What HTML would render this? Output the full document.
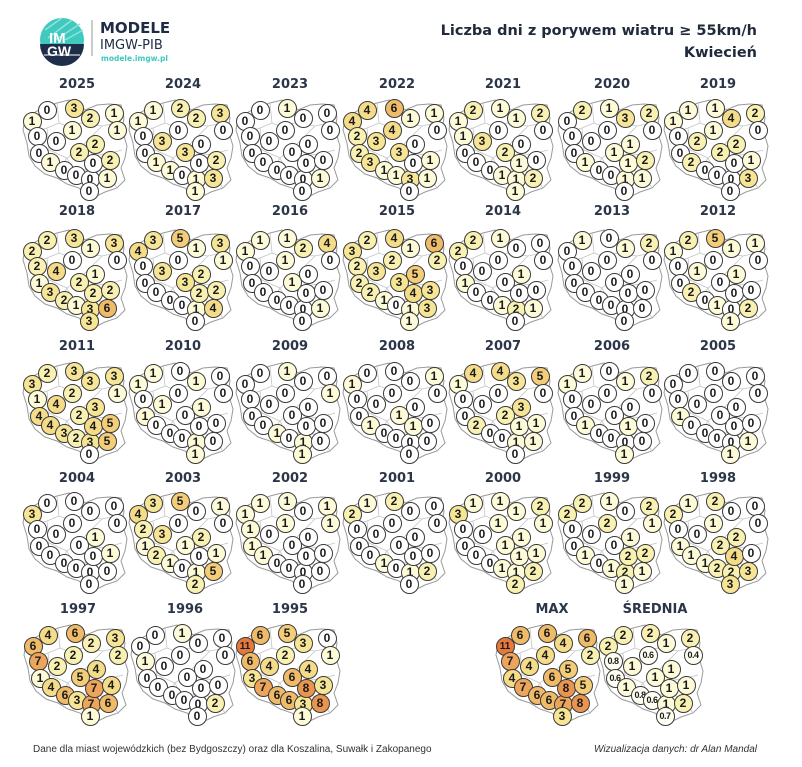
<!DOCTYPE html>
<html><head><meta charset="utf-8">
<style>
body{margin:0;background:#fff;}
#w{position:relative;width:802px;height:767px;overflow:hidden;background:#fff;font-family:"Liberation Sans",sans-serif;}
svg.bg{position:absolute;left:0;top:0}
.m{position:absolute;width:0;height:0}
.m b{position:absolute;width:17px;height:17px;margin:-9.5px 0 0 -9.5px;border:1px solid #3a3a3a;border-radius:50%;background:#fff;font:bold 12px/17px "Liberation Sans",sans-serif;text-align:center;color:#1a1a1a}
.m b:nth-child(1){left:-45px;top:33px}
.m b:nth-child(2){left:-30px;top:22px}
.m b:nth-child(3){left:-3px;top:20px}
.m b:nth-child(4){left:13px;top:30px}
.m b:nth-child(5){left:37px;top:25px}
.m b:nth-child(6){left:40px;top:42px}
.m b:nth-child(7){left:-40px;top:48px}
.m b:nth-child(8){left:-21px;top:53px}
.m b:nth-child(9){left:-5px;top:42px}
.m b:nth-child(10){left:18px;top:56px}
.m b:nth-child(11){left:2px;top:64px}
.m b:nth-child(12){left:-38px;top:65px}
.m b:nth-child(13){left:-27px;top:74px}
.m b:nth-child(14){left:-13px;top:82px}
.m b:nth-child(15){left:-1px;top:87px}
.m b:nth-child(16){left:13px;top:91px}
.m b:nth-child(17){left:16px;top:75px}
.m b:nth-child(18){left:33px;top:72px}
.m b:nth-child(19){left:30px;top:90px}
.m b:nth-child(20){left:12px;top:103px}
.m b.a{background:#fdfbd8}
.m b.b{background:#f9f1b1}
.m b.c{background:#f6e595}
.m b.d{background:#f5dc88}
.m b.e{background:#f3cd78}
.m b.f{background:#f0bb68}
.m b.g{background:#eca55a}
.m b.h{background:#e9954f}
.m b.k{background:#e5793b;font-size:10px}
.m b.s{font-size:9px;letter-spacing:-0.5px;background:#fffef2}
.t{position:absolute;width:100px;margin-left:-50px;text-align:center;font:bold 13px "DejaVu Sans",sans-serif;color:#2b3648}
</style></head><body><div id="w">
<svg class="bg" width="802" height="767">
<defs>
<g id="pl">
<path d="M-52,30 L-38,22 L-20,15 L-8,12 L2,16 L8,22 L20,17 L32,16 L44,17 L47,30 L45,42 L50,58 L48,70 L44,80 L48,92 L40,100 L28,104 L20,108 L8,106 L2,100 L-10,96 L-20,90 L-32,86 L-42,78 L-48,68 L-50,55 L-54,42 Z" fill="#fff" stroke="#9a9a9a" stroke-width="1"/>
<path d="M-20,15 L-18,35 L-30,40 L-45,45 M8,22 L5,35 L-10,38 L-18,35 M5,35 L25,38 L44,34 M-30,40 L-28,62 L-48,62 M-28,62 L-10,70 L5,58 L25,38 M5,58 L12,68 L30,66 L45,62 M-10,70 L-20,85 M-10,70 L-4,82 L8,82 L20,82 L30,85 M12,68 L8,82 M30,66 L30,85 L40,100" fill="none" stroke="#c4c4c4" stroke-width="0.8"/>
</g>
</defs>
<use href="#pl" x="77" y="88"/><use href="#pl" x="183" y="88"/><use href="#pl" x="290" y="88"/><use href="#pl" x="397" y="88"/><use href="#pl" x="503" y="88"/><use href="#pl" x="612" y="88"/><use href="#pl" x="718" y="88"/>
<use href="#pl" x="77" y="218"/><use href="#pl" x="183" y="218"/><use href="#pl" x="290" y="218"/><use href="#pl" x="397" y="218"/><use href="#pl" x="503" y="218"/><use href="#pl" x="612" y="218"/><use href="#pl" x="718" y="218"/>
<use href="#pl" x="77" y="351"/><use href="#pl" x="183" y="351"/><use href="#pl" x="290" y="351"/><use href="#pl" x="397" y="351"/><use href="#pl" x="503" y="351"/><use href="#pl" x="612" y="351"/><use href="#pl" x="718" y="351"/>
<use href="#pl" x="77" y="481"/><use href="#pl" x="183" y="481"/><use href="#pl" x="290" y="481"/><use href="#pl" x="397" y="481"/><use href="#pl" x="503" y="481"/><use href="#pl" x="612" y="481"/><use href="#pl" x="718" y="481"/>
<use href="#pl" x="78" y="613"/><use href="#pl" x="185" y="613"/><use href="#pl" x="290" y="613"/><use href="#pl" x="550" y="613"/><use href="#pl" x="653" y="613"/>
<circle cx="62" cy="40" r="22" fill="#3fc9bf"/>
<g stroke="#8fe3dc" stroke-width="1.5"><line x1="45" y1="30" x2="62" y2="18"/><line x1="48" y1="38" x2="72" y2="20"/><line x1="55" y1="40" x2="80" y2="24"/><line x1="65" y1="40" x2="83" y2="30"/></g>
<path d="M40,44 L84,44 A22,22 0 0 1 40,44 Z" fill="#1e2d4a"/>
<line x1="44" y1="55" x2="80" y2="55" stroke="#fff" stroke-width="1"/>
<text x="49" y="43" font-family="Liberation Sans" font-weight="bold" font-size="15" fill="#fff">IM</text>
<text x="47" y="56" font-family="Liberation Sans" font-weight="bold" font-size="14" fill="#fff">GW</text>
<line x1="92" y1="20" x2="92" y2="56" stroke="#999" stroke-width="1"/>
<text x="100" y="33" font-family="DejaVu Sans" font-weight="bold" font-size="15" fill="#1f2a44">MODELE</text>
<text x="100" y="49" font-family="DejaVu Sans" font-size="13" fill="#1f2a44">IMGW-PIB</text>
<text x="101" y="61" font-family="DejaVu Sans" font-weight="bold" font-size="7.5" fill="#3fc9bf">modele.imgw.pl</text>
<text x="757" y="35" text-anchor="end" font-family="DejaVu Sans" font-weight="bold" font-size="14.5" fill="#1f2a3a">Liczba dni z porywem wiatru ≥ 55km/h</text>
<text x="757" y="57" text-anchor="end" font-family="DejaVu Sans" font-weight="bold" font-size="14.5" fill="#1f2a3a">Kwiecień</text>
<text x="33" y="752" font-family="Liberation Sans" font-size="10" fill="#333">Dane dla miast wojewódzkich (bez Bydgoszczy) oraz dla Koszalina, Suwałk i Zakopanego</text>
<text x="757" y="752" text-anchor="end" font-family="Liberation Sans" font-style="italic" font-size="10" fill="#333">Wizualizacja danych: dr Alan Mandal</text>
</svg>

<div class="t" style="left:77px;top:77px">2025</div><div class="t" style="left:183px;top:77px">2024</div><div class="t" style="left:290px;top:77px">2023</div><div class="t" style="left:397px;top:77px">2022</div><div class="t" style="left:503px;top:77px">2021</div><div class="t" style="left:612px;top:77px">2020</div><div class="t" style="left:718px;top:77px">2019</div>
<div class="t" style="left:77px;top:204px">2018</div><div class="t" style="left:183px;top:204px">2017</div><div class="t" style="left:290px;top:204px">2016</div><div class="t" style="left:397px;top:204px">2015</div><div class="t" style="left:503px;top:204px">2014</div><div class="t" style="left:612px;top:204px">2013</div><div class="t" style="left:718px;top:204px">2012</div>
<div class="t" style="left:77px;top:339px">2011</div><div class="t" style="left:183px;top:339px">2010</div><div class="t" style="left:290px;top:339px">2009</div><div class="t" style="left:397px;top:339px">2008</div><div class="t" style="left:503px;top:339px">2007</div><div class="t" style="left:612px;top:339px">2006</div><div class="t" style="left:718px;top:339px">2005</div>
<div class="t" style="left:77px;top:471px">2004</div><div class="t" style="left:183px;top:471px">2003</div><div class="t" style="left:290px;top:471px">2002</div><div class="t" style="left:397px;top:471px">2001</div><div class="t" style="left:503px;top:471px">2000</div><div class="t" style="left:612px;top:471px">1999</div><div class="t" style="left:718px;top:471px">1998</div>
<div class="t" style="left:78px;top:602px">1997</div><div class="t" style="left:185px;top:602px">1996</div><div class="t" style="left:290px;top:602px">1995</div><div class="t" style="left:552px;top:602px">MAX</div><div class="t" style="left:655px;top:602px">ŚREDNIA</div>

<div class="m" style="left:77px;top:88px"><b class="a">1</b><b>0</b><b class="c">3</b><b class="b">2</b><b class="a">1</b><b class="a">1</b><b>0</b><b>0</b><b class="a">1</b><b class="b">2</b><b class="b">2</b><b>0</b><b class="a">1</b><b>0</b><b>0</b><b>0</b><b>0</b><b class="b">2</b><b class="a">1</b><b>0</b></div>
<div class="m" style="left:183px;top:88px"><b class="a">1</b><b class="a">1</b><b class="b">2</b><b class="b">2</b><b class="c">3</b><b>0</b><b>0</b><b class="c">3</b><b>0</b><b>0</b><b class="c">3</b><b>0</b><b class="a">1</b><b class="a">1</b><b>0</b><b class="a">1</b><b>0</b><b class="b">2</b><b class="c">3</b><b class="a">1</b></div>
<div class="m" style="left:290px;top:88px"><b>0</b><b>0</b><b class="a">1</b><b>0</b><b>0</b><b>0</b><b>0</b><b>0</b><b>0</b><b>0</b><b>0</b><b>0</b><b>0</b><b>0</b><b>0</b><b>0</b><b>0</b><b>0</b><b class="a">1</b><b>0</b></div>
<div class="m" style="left:397px;top:88px"><b class="d">4</b><b class="d">4</b><b class="f">6</b><b class="a">1</b><b class="a">1</b><b>0</b><b class="b">2</b><b class="c">3</b><b class="d">4</b><b>0</b><b class="c">3</b><b class="b">2</b><b class="c">3</b><b class="a">1</b><b class="a">1</b><b class="c">3</b><b>0</b><b class="a">1</b><b class="a">1</b><b>0</b></div>
<div class="m" style="left:503px;top:88px"><b class="a">1</b><b class="b">2</b><b class="a">1</b><b class="a">1</b><b class="b">2</b><b>0</b><b class="a">1</b><b class="c">3</b><b>0</b><b>0</b><b class="b">2</b><b>0</b><b>0</b><b>0</b><b class="a">1</b><b class="a">1</b><b class="a">1</b><b>0</b><b class="b">2</b><b class="a">1</b></div>
<div class="m" style="left:612px;top:88px"><b>0</b><b class="b">2</b><b class="a">1</b><b class="c">3</b><b class="b">2</b><b>0</b><b>0</b><b>0</b><b>0</b><b class="a">1</b><b class="a">1</b><b>0</b><b class="a">1</b><b>0</b><b>0</b><b class="a">1</b><b class="a">1</b><b class="b">2</b><b class="a">1</b><b>0</b></div>
<div class="m" style="left:718px;top:88px"><b class="a">1</b><b class="a">1</b><b class="a">1</b><b class="d">4</b><b class="b">2</b><b>0</b><b>0</b><b class="b">2</b><b class="a">1</b><b class="b">2</b><b class="b">2</b><b>0</b><b class="b">2</b><b>0</b><b>0</b><b>0</b><b>0</b><b class="a">1</b><b class="c">3</b><b>0</b></div>
<div class="m" style="left:77px;top:218px"><b class="b">2</b><b class="b">2</b><b class="c">3</b><b class="a">1</b><b class="c">3</b><b>0</b><b class="b">2</b><b class="d">4</b><b>0</b><b class="a">1</b><b class="b">2</b><b class="a">1</b><b class="c">3</b><b class="b">2</b><b class="a">1</b><b class="c">3</b><b class="b">2</b><b class="b">2</b><b class="f">6</b><b class="c">3</b></div>
<div class="m" style="left:183px;top:218px"><b class="d">4</b><b class="c">3</b><b class="e">5</b><b class="a">1</b><b class="c">3</b><b class="a">1</b><b>0</b><b class="c">3</b><b>0</b><b class="b">2</b><b class="c">3</b><b>0</b><b>0</b><b>0</b><b>0</b><b class="a">1</b><b class="b">2</b><b class="b">2</b><b class="d">4</b><b>0</b></div>
<div class="m" style="left:290px;top:218px"><b class="a">1</b><b class="a">1</b><b class="a">1</b><b class="b">2</b><b class="d">4</b><b>0</b><b>0</b><b>0</b><b class="a">1</b><b>0</b><b class="a">1</b><b>0</b><b>0</b><b>0</b><b>0</b><b>0</b><b>0</b><b>0</b><b class="a">1</b><b>0</b></div>
<div class="m" style="left:397px;top:218px"><b class="c">3</b><b class="b">2</b><b class="d">4</b><b class="a">1</b><b class="f">6</b><b class="b">2</b><b class="b">2</b><b class="c">3</b><b class="b">2</b><b class="e">5</b><b class="c">3</b><b class="b">2</b><b class="b">2</b><b class="a">1</b><b>0</b><b class="a">1</b><b class="d">4</b><b class="c">3</b><b class="c">3</b><b class="a">1</b></div>
<div class="m" style="left:503px;top:218px"><b class="b">2</b><b class="b">2</b><b class="a">1</b><b>0</b><b>0</b><b>0</b><b>0</b><b>0</b><b>0</b><b class="a">1</b><b>0</b><b class="a">1</b><b>0</b><b>0</b><b class="a">1</b><b class="b">2</b><b>0</b><b>0</b><b class="a">1</b><b>0</b></div>
<div class="m" style="left:612px;top:218px"><b>0</b><b class="a">1</b><b>0</b><b class="a">1</b><b class="b">2</b><b>0</b><b>0</b><b>0</b><b>0</b><b>0</b><b>0</b><b>0</b><b>0</b><b>0</b><b>0</b><b>0</b><b>0</b><b>0</b><b>0</b><b>0</b></div>
<div class="m" style="left:718px;top:218px"><b class="a">1</b><b class="b">2</b><b class="e">5</b><b class="a">1</b><b class="a">1</b><b>0</b><b>0</b><b class="a">1</b><b>0</b><b class="a">1</b><b>0</b><b>0</b><b class="b">2</b><b>0</b><b class="a">1</b><b>0</b><b>0</b><b>0</b><b class="b">2</b><b class="a">1</b></div>
<div class="m" style="left:77px;top:351px"><b class="c">3</b><b class="b">2</b><b class="c">3</b><b class="c">3</b><b class="c">3</b><b class="a">1</b><b class="a">1</b><b class="d">4</b><b class="b">2</b><b class="c">3</b><b class="b">2</b><b class="d">4</b><b class="d">4</b><b class="c">3</b><b class="b">2</b><b class="c">3</b><b class="d">4</b><b class="e">5</b><b class="e">5</b><b>0</b></div>
<div class="m" style="left:183px;top:351px"><b class="a">1</b><b class="a">1</b><b>0</b><b class="a">1</b><b>0</b><b>0</b><b>0</b><b class="a">1</b><b>0</b><b class="a">1</b><b>0</b><b class="a">1</b><b>0</b><b>0</b><b>0</b><b class="a">1</b><b>0</b><b>0</b><b>0</b><b class="a">1</b></div>
<div class="m" style="left:290px;top:351px"><b>0</b><b>0</b><b class="a">1</b><b>0</b><b>0</b><b class="a">1</b><b>0</b><b>0</b><b>0</b><b>0</b><b>0</b><b>0</b><b>0</b><b class="a">1</b><b>0</b><b class="a">1</b><b>0</b><b>0</b><b>0</b><b class="a">1</b></div>
<div class="m" style="left:397px;top:351px"><b class="a">1</b><b>0</b><b>0</b><b>0</b><b class="a">1</b><b>0</b><b>0</b><b>0</b><b>0</b><b>0</b><b class="a">1</b><b>0</b><b class="a">1</b><b>0</b><b>0</b><b>0</b><b class="a">1</b><b>0</b><b>0</b><b>0</b></div>
<div class="m" style="left:503px;top:351px"><b class="a">1</b><b class="d">4</b><b class="d">4</b><b class="c">3</b><b class="e">5</b><b>0</b><b>0</b><b>0</b><b>0</b><b class="c">3</b><b class="b">2</b><b>0</b><b class="b">2</b><b>0</b><b>0</b><b class="a">1</b><b class="a">1</b><b class="a">1</b><b class="a">1</b><b>0</b></div>
<div class="m" style="left:612px;top:351px"><b class="a">1</b><b class="a">1</b><b>0</b><b class="a">1</b><b class="b">2</b><b>0</b><b>0</b><b>0</b><b>0</b><b>0</b><b>0</b><b>0</b><b class="a">1</b><b>0</b><b>0</b><b>0</b><b class="a">1</b><b>0</b><b>0</b><b class="a">1</b></div>
<div class="m" style="left:718px;top:351px"><b>0</b><b>0</b><b>0</b><b>0</b><b>0</b><b>0</b><b>0</b><b>0</b><b>0</b><b>0</b><b>0</b><b class="a">1</b><b>0</b><b>0</b><b>0</b><b>0</b><b>0</b><b>0</b><b class="a">1</b><b class="a">1</b></div>
<div class="m" style="left:77px;top:481px"><b class="c">3</b><b>0</b><b>0</b><b>0</b><b>0</b><b>0</b><b>0</b><b>0</b><b>0</b><b class="a">1</b><b>0</b><b>0</b><b>0</b><b>0</b><b>0</b><b>0</b><b>0</b><b class="a">1</b><b>0</b><b>0</b></div>
<div class="m" style="left:183px;top:481px"><b class="d">4</b><b class="c">3</b><b class="e">5</b><b>0</b><b class="a">1</b><b>0</b><b class="b">2</b><b class="c">3</b><b>0</b><b class="b">2</b><b class="a">1</b><b class="a">1</b><b class="b">2</b><b class="a">1</b><b>0</b><b class="a">1</b><b>0</b><b class="a">1</b><b class="e">5</b><b class="b">2</b></div>
<div class="m" style="left:290px;top:481px"><b class="a">1</b><b class="a">1</b><b class="a">1</b><b>0</b><b class="a">1</b><b class="a">1</b><b class="a">1</b><b>0</b><b class="a">1</b><b>0</b><b>0</b><b class="a">1</b><b class="a">1</b><b>0</b><b>0</b><b>0</b><b>0</b><b>0</b><b>0</b><b>0</b></div>
<div class="m" style="left:397px;top:481px"><b class="b">2</b><b class="a">1</b><b class="b">2</b><b>0</b><b>0</b><b>0</b><b>0</b><b>0</b><b>0</b><b>0</b><b>0</b><b>0</b><b>0</b><b class="a">1</b><b>0</b><b class="a">1</b><b>0</b><b>0</b><b class="b">2</b><b>0</b></div>
<div class="m" style="left:503px;top:481px"><b class="c">3</b><b class="a">1</b><b class="a">1</b><b class="a">1</b><b class="b">2</b><b class="a">1</b><b>0</b><b>0</b><b class="a">1</b><b class="a">1</b><b class="a">1</b><b>0</b><b>0</b><b>0</b><b class="a">1</b><b class="a">1</b><b class="a">1</b><b class="a">1</b><b class="b">2</b><b class="b">2</b></div>
<div class="m" style="left:612px;top:481px"><b class="b">2</b><b class="b">2</b><b class="a">1</b><b>0</b><b class="b">2</b><b class="a">1</b><b>0</b><b>0</b><b class="b">2</b><b class="a">1</b><b>0</b><b>0</b><b class="a">1</b><b>0</b><b class="a">1</b><b class="b">2</b><b class="b">2</b><b class="b">2</b><b class="a">1</b><b class="a">1</b></div>
<div class="m" style="left:718px;top:481px"><b class="b">2</b><b class="a">1</b><b class="b">2</b><b>0</b><b>0</b><b>0</b><b>0</b><b>0</b><b class="a">1</b><b class="b">2</b><b class="b">2</b><b class="a">1</b><b class="a">1</b><b class="a">1</b><b class="b">2</b><b class="b">2</b><b class="d">4</b><b>0</b><b class="c">3</b><b class="c">3</b></div>
<div class="m" style="left:78px;top:613px"><b class="f">6</b><b class="d">4</b><b class="f">6</b><b class="b">2</b><b class="c">3</b><b class="b">2</b><b class="g">7</b><b class="b">2</b><b class="b">2</b><b class="d">4</b><b class="e">5</b><b class="a">1</b><b class="d">4</b><b class="f">6</b><b class="c">3</b><b class="g">7</b><b class="g">7</b><b class="d">4</b><b class="f">6</b><b class="a">1</b></div>
<div class="m" style="left:185px;top:613px"><b>0</b><b>0</b><b class="a">1</b><b>0</b><b>0</b><b>0</b><b class="a">1</b><b>0</b><b>0</b><b>0</b><b>0</b><b>0</b><b>0</b><b>0</b><b>0</b><b>0</b><b>0</b><b>0</b><b class="b">2</b><b>0</b></div>
<div class="m" style="left:290px;top:613px"><b class="k">11</b><b class="f">6</b><b class="e">5</b><b class="c">3</b><b>0</b><b class="a">1</b><b class="f">6</b><b class="d">4</b><b class="b">2</b><b class="d">4</b><b class="f">6</b><b class="c">3</b><b class="g">7</b><b class="f">6</b><b class="f">6</b><b class="c">3</b><b class="h">8</b><b class="c">3</b><b class="h">8</b><b class="a">1</b></div>
<div class="m" style="left:550px;top:613px"><b class="k">11</b><b class="f">6</b><b class="f">6</b><b class="d">4</b><b class="f">6</b><b class="b">2</b><b class="g">7</b><b class="d">4</b><b class="d">4</b><b class="e">5</b><b class="f">6</b><b class="d">4</b><b class="g">7</b><b class="f">6</b><b class="f">6</b><b class="g">7</b><b class="h">8</b><b class="e">5</b><b class="h">8</b><b class="c">3</b></div>
<div class="m" style="left:653px;top:613px"><b class="b">2</b><b class="b">2</b><b class="b">2</b><b class="a">1</b><b class="b">2</b><b class="s">0.4</b><b class="s">0.8</b><b class="a">1</b><b class="s">0.6</b><b class="a">1</b><b class="a">1</b><b class="s">0.6</b><b class="a">1</b><b class="s">0.8</b><b class="s">0.6</b><b class="a">1</b><b class="a">1</b><b class="a">1</b><b class="b">2</b><b class="s">0.7</b></div>
</div></body></html>
